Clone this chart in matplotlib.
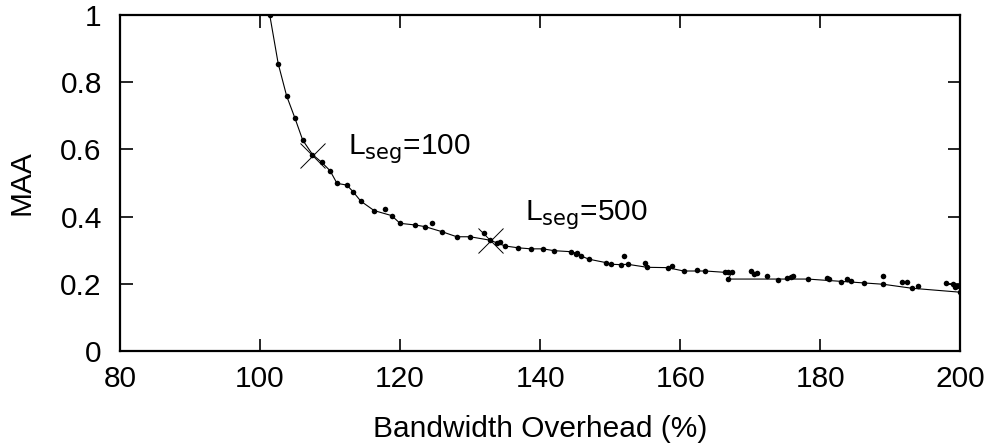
import matplotlib
matplotlib.use('Agg')
import matplotlib.pyplot as plt

plt.rcParams['font.family'] = ['Liberation Sans', 'DejaVu Sans']

# lower envelope drawn as a line (in plotting order)
line_x = [101.4, 102.6, 103.8, 105.0, 106.1, 107.5, 108.8, 110.0, 111.0, 112.4,
          113.3, 114.4, 116.3, 118.8, 120.0, 122.2, 123.6, 126.0, 128.1, 130.0,
          132.8, 133.8, 135.0, 136.9, 138.7, 140.4, 142.0, 144.4, 145.2, 145.8,
          147.0, 149.4, 150.1, 151.5, 152.5, 155.3, 158.2, 160.5, 163.6, 166.4,
          167.4, 166.9, 178.2, 189.0, 193.1, 199.9]
line_y = [1.000, 0.856, 0.760, 0.693, 0.628, 0.585, 0.562, 0.537, 0.499, 0.494,
          0.474, 0.446, 0.418, 0.403, 0.380, 0.375, 0.370, 0.355, 0.340, 0.340,
          0.330, 0.322, 0.3125, 0.307, 0.304, 0.304, 0.2985, 0.2955, 0.291, 0.283,
          0.273, 0.263, 0.258, 0.257, 0.258, 0.249, 0.248, 0.238, 0.238, 0.234,
          0.236, 0.214, 0.214, 0.1985, 0.1866, 0.175]

# short extra segment near the right edge
tail_x = [197.9, 199.6]
tail_y = [0.2015, 0.194]

# remaining configurations (not on the line)
extra_x = [117.9, 124.5, 132.0, 134.3, 145.1, 152.0, 155.0, 158.9, 162.4, 166.9,
           170.1, 170.6, 171.0, 172.4, 174.0, 175.3, 175.8, 176.1, 180.9, 181.3,
           182.9, 183.8, 184.4, 186.3, 189.0, 191.7, 192.4, 194.0, 199.0, 199.3]
extra_y = [0.423, 0.380, 0.352, 0.325, 0.289, 0.284, 0.263, 0.253, 0.241, 0.236,
           0.239, 0.229, 0.233, 0.223, 0.211, 0.216, 0.219, 0.222, 0.216, 0.214,
           0.2045, 0.213, 0.208, 0.203, 0.224, 0.2045, 0.2045, 0.193, 0.1985, 0.191]

# selected segment lengths
sel_x = [107.5, 132.8]
sel_y = [0.585, 0.330]
sel_labels = ['L$_{\\rm seg}$=100', 'L$_{\\rm seg}$=500']
label_pos = [(112.6, 0.604), (137.9, 0.405)]

FS = 21.5

fig = plt.figure(figsize=(9.91, 4.47), dpi=100)
ax = fig.add_axes([0.121, 0.215, 0.848, 0.751])

ax.plot(line_x, line_y, color='black', lw=0.8, zorder=2)
ax.plot(tail_x, tail_y, color='black', lw=0.8, zorder=2)
ax.plot(line_x, line_y, 'o', color='black', ms=4, mew=0, zorder=3)
ax.plot(tail_x, tail_y, 'o', color='black', ms=4, mew=0, zorder=3)
ax.plot(extra_x, extra_y, 'o', color='black', ms=4, mew=0, zorder=3)
ax.plot(sel_x, sel_y, 'x', color='black', ms=18, mew=0.7, zorder=4)

for (tx, ty), lab in zip(label_pos, sel_labels):
    ax.text(tx, ty, lab, fontsize=FS, ha='left', va='center')

ax.set_xlim(80, 200)
ax.set_ylim(0, 1)
ax.set_xticks([80, 100, 120, 140, 160, 180, 200])
ax.set_yticks([0, 0.2, 0.4, 0.6, 0.8, 1])
ax.set_yticklabels(['0', '0.2', '0.4', '0.6', '0.8', '1'])
ax.tick_params(direction='in', length=9, width=1.2, labelsize=FS,
               top=True, right=True)
ax.tick_params(axis='y', pad=13)
ax.tick_params(axis='x', pad=10)
for sp in ax.spines.values():
    sp.set_linewidth(1.6)

ax.set_xlabel('Bandwidth Overhead (%)', fontsize=FS, labelpad=16)
ax.set_ylabel('MAA', fontsize=FS, labelpad=18)

fig.savefig('out.png', dpi=100, facecolor='white')
